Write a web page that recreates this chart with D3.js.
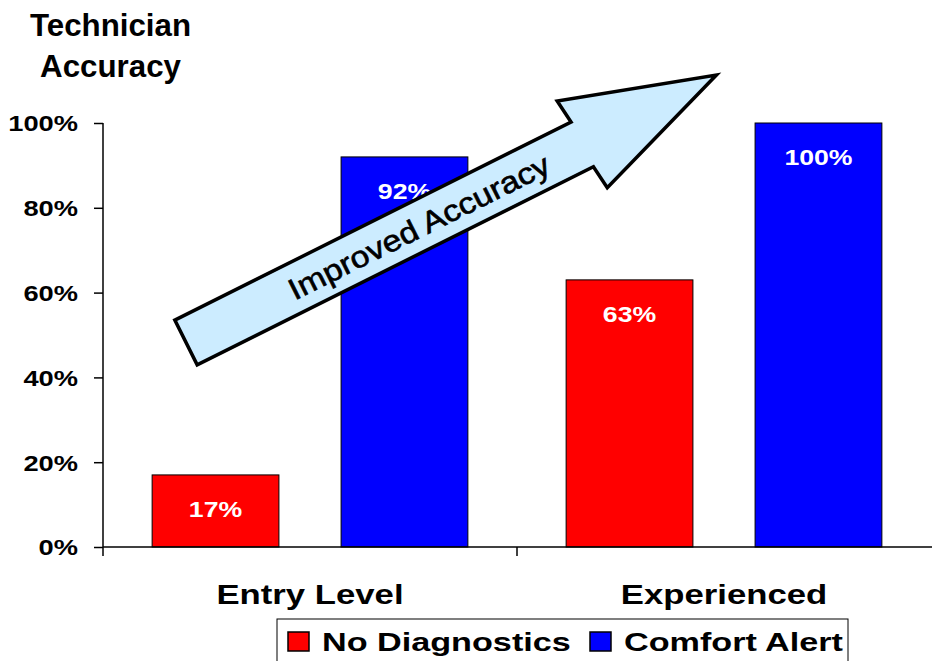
<!DOCTYPE html>
<html>
<head>
<meta charset="utf-8">
<script src="https://cdn.jsdelivr.net/npm/d3@7"></script>
<style>
  html, body { margin: 0; padding: 0; background: #fff; }
  svg { display: block; font-family: "Liberation Sans", Arial, sans-serif; }
</style>
</head>
<body>
<svg id="chart" width="932" height="661"></svg>
<script>
// ---- data ----
const categories = ["Entry Level", "Experienced"];
const seriesNames = ["No Diagnostics", "Comfort Alert"];
const noDiagnostics = [17, 63];
const comfortAlert = [92, 100];
const yTicks = [0, 20, 40, 60, 80, 100];
const titleLines = ["Technician", "Accuracy"];
const arrowLabel = "Improved Accuracy";
const seriesColors = ["#FF0000", "#0000FF"];

// ---- layout ----
const SX = 1.24; // horizontal text stretch of the original slide
const svg = d3.select("#chart");
const plot = { left: 103, right: 931, top: 123, bottom: 547 };

const x0 = d3.scaleBand().domain(categories).range([plot.left, plot.right]).padding(0);
const x1 = d3.scaleBand().domain(seriesNames).range([0, x0.bandwidth()])
  .paddingInner(0.329).paddingOuter(0.26);
const y = d3.scaleLinear().domain([0, 100]).range([plot.bottom, plot.top]);

const rows = categories.map((c, i) => ({
  category: c,
  values: [
    { series: seriesNames[0], value: noDiagnostics[i], color: seriesColors[0] },
    { series: seriesNames[1], value: comfortAlert[i], color: seriesColors[1] }
  ]
}));

function stretchedText(sel, x, yy, anchor, sx) {
  return sel.attr("transform", `translate(${x},${yy}) scale(${sx},1)`)
    .attr("x", 0).attr("y", 0).attr("text-anchor", anchor);
}

// ---- title ----
titleLines.forEach((t, i) => {
  stretchedText(svg.append("text"), 110.5, 36 + i * 41, "middle", 1.01)
    .attr("font-size", 31).attr("font-weight", "bold").attr("fill", "#000").text(t);
});

// ---- bars ----
const groups = svg.append("g").selectAll("g").data(rows).join("g")
  .attr("transform", d => `translate(${x0(d.category)},0)`);

groups.selectAll("rect").data(d => d.values).join("rect")
  .attr("x", d => x1(d.series))
  .attr("y", d => y(d.value))
  .attr("width", x1.bandwidth())
  .attr("height", d => y(0) - y(d.value))
  .attr("fill", d => d.color)
  .attr("stroke", "#000").attr("stroke-width", 1);

groups.selectAll("text.val").data(d => d.values).join("text")
  .attr("class", "val")
  .each(function (d) {
    stretchedText(d3.select(this), x1(d.series) + x1.bandwidth() / 2, y(d.value) + 42, "middle", SX);
  })
  .attr("font-size", 21.5).attr("font-weight", "bold").attr("fill", "#fff")
  .text(d => d.value + "%");

// ---- axes ----
const yAxis = svg.append("g").attr("transform", `translate(${plot.left},0)`)
  .call(d3.axisLeft(y).tickValues(yTicks).tickSize(9).tickPadding(0).tickFormat(d => d + "%"));
yAxis.select(".domain").remove();
yAxis.selectAll("line").attr("stroke", "#000").attr("stroke-width", 1.5);
yAxis.selectAll("text").each(function () {
  stretchedText(d3.select(this), -25, 0, "end", SX);
}).attr("dy", "0.36em").attr("font-size", 22).attr("font-weight", "bold")
  .attr("fill", "#000").attr("font-family", "Liberation Sans, Arial, sans-serif");

svg.append("line").attr("x1", plot.left).attr("x2", plot.left)
  .attr("y1", plot.top).attr("y2", plot.bottom + 9)
  .attr("stroke", "#000").attr("stroke-width", 1.5);

const xAxis = svg.append("g").attr("transform", `translate(0,${plot.bottom})`)
  .call(d3.axisBottom(x0).tickSize(0).tickPadding(0));
xAxis.select(".domain").attr("d", `M${plot.left},0H${plot.right + 10}`).attr("stroke", "#000").attr("stroke-width", 1.5);
xAxis.selectAll("text").each(function () {
  stretchedText(d3.select(this), 0, 57, "middle", SX);
}).attr("dy", null).attr("font-size", 28).attr("font-weight", "bold")
  .attr("fill", "#000").attr("font-family", "Liberation Sans, Arial, sans-serif");
// category boundary ticks
svg.append("g").selectAll("line").data(categories.slice(1)).join("line")
  .attr("x1", d => x0(d)).attr("x2", d => x0(d))
  .attr("y1", plot.bottom).attr("y2", plot.bottom + 9)
  .attr("stroke", "#000").attr("stroke-width", 1.5);

// ---- arrow annotation ----
const arrow = { x: 186, y: 342.5, angle: Math.atan2(-1, 2), len: 443, shaft: 50, headW: 100, headL: 151 };
const ag = svg.append("g")
  .attr("transform", `translate(${arrow.x},${arrow.y}) rotate(${arrow.angle * 180 / Math.PI})`);
const hs = arrow.shaft / 2, hh = arrow.headW / 2;
ag.append("path")
  .attr("d", d3.line()([
    [0, -hs], [arrow.len, -hs], [arrow.len - 3, -hh], [arrow.len + arrow.headL, -2],
    [arrow.len + 3, hh], [arrow.len, hs], [0, hs]
  ]) + "Z")
  .attr("fill", "#CCECFF").attr("stroke", "#000").attr("stroke-width", 3.5)
  .attr("stroke-linejoin", "miter");
ag.append("text")
  .attr("transform", `translate(260,1) scale(1.13,1)`)
  .attr("text-anchor", "middle").attr("dominant-baseline", "central")
  .attr("font-size", 30).attr("fill", "#000")
  .attr("stroke", "#000").attr("stroke-width", 0.6).text(arrowLabel);

// ---- legend ----
const lg = svg.append("g");
lg.append("rect").attr("x", 277).attr("y", 619).attr("width", 571).attr("height", 60)
  .attr("fill", "#fff").attr("stroke", "#000").attr("stroke-width", 1);
const legendX = [288, 590];
seriesNames.forEach((s, i) => {
  lg.append("rect").attr("x", legendX[i]).attr("y", 632).attr("width", 21).attr("height", 19)
    .attr("fill", seriesColors[i]).attr("stroke", "#000").attr("stroke-width", 1.5);
  stretchedText(lg.append("text"), legendX[i] + 34, 651, "start", 1.29)
    .attr("font-size", 26.5).attr("font-weight", "bold").attr("fill", "#000").text(s);
});
</script>
</body>
</html>
